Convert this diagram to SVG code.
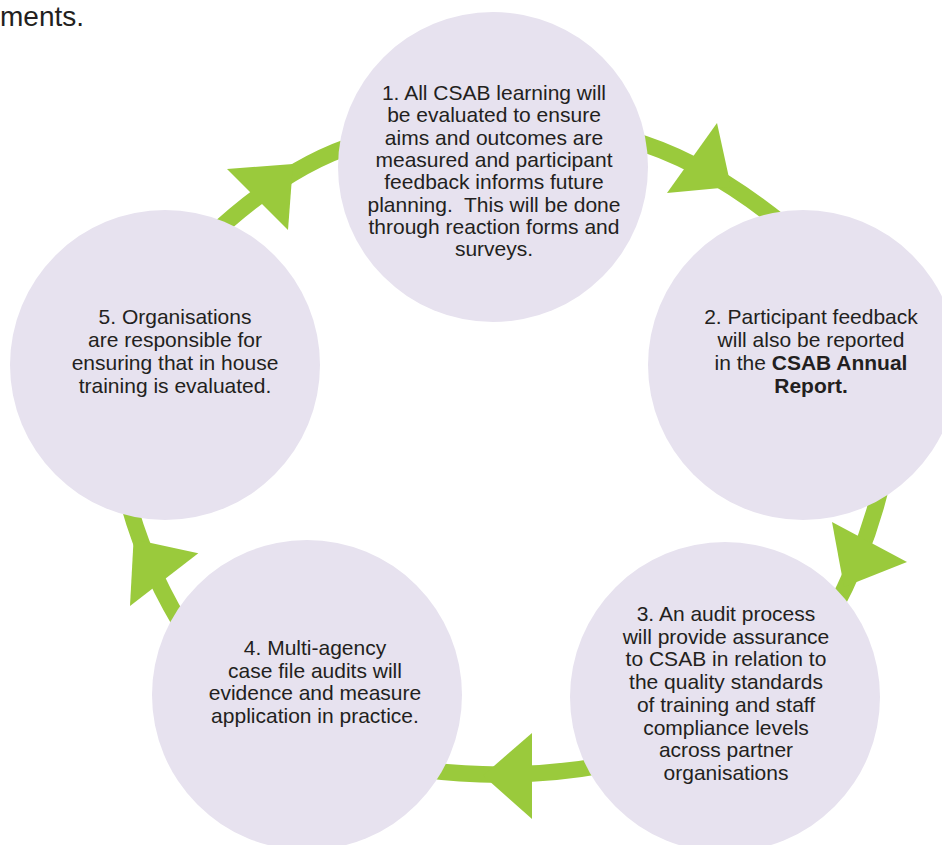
<svg xmlns="http://www.w3.org/2000/svg" width="942" height="845" viewBox="0 0 942 845">
<style>
.bg{fill:#ffffff}
.node{fill:#E7E2EF}
.arc{fill:none;stroke:#9ACA3C;stroke-width:16.5}
.head{fill:#9ACA3C}
.t{font-family:"Liberation Sans",Arial,sans-serif;font-size:21px;fill:#231F20;text-anchor:middle}
.b{font-weight:bold}
</style>
<rect class="bg" x="0" y="0" width="942" height="845"/>
<text x="0" y="26" style="font-family:'Liberation Sans',Arial,sans-serif;font-size:28px;fill:#231F20">ments.</text>
<g id="connectors">
  <path class="arc" d="M208 239 Q286 165 360 143"/>
  <polygon class="head" points="227,169 293,164 288,230"/>
  <path class="arc" d="M628 139 Q703.5 159.5 785 226"/>
  <polygon class="head" points="717,123 731,187 667,193"/>
  <path class="arc" d="M884 473 Q869.5 544 831 615"/>
  <polygon class="head" points="832,522 907,562 844,587"/>
  <path class="arc" d="M605 765 Q512.5 782 420 769"/>
  <polygon class="head" points="532,733 532,819 483,775.5"/>
  <path class="arc" d="M190.7 640 Q144.5 567.5 126.4 495"/>
  <polygon class="head" points="130,606 198.3,553.3 133.6,539.3"/>
</g>
<g id="node1">
  <circle class="node" cx="493" cy="167" r="155"/>
  <text class="t" x="494" y="100">1. All CSAB learning will</text>
  <text class="t" x="494" y="122.3">be evaluated to ensure</text>
  <text class="t" x="494" y="144.6">aims and outcomes are</text>
  <text class="t" x="494" y="166.9">measured and participant</text>
  <text class="t" x="494" y="189.2">feedback informs future</text>
  <text class="t" x="494" y="211.5" style="white-space:pre">planning.  This will be done</text>
  <text class="t" x="494" y="233.8">through reaction forms and</text>
  <text class="t" x="494" y="256.1">surveys.</text>
</g>
<g id="node2">
  <circle class="node" cx="803" cy="365" r="155"/>
  <text class="t" x="811" y="324">2. Participant feedback</text>
  <text class="t" x="811" y="347">will also be reported</text>
  <text class="t" x="811" y="370">in the <tspan class="b">CSAB Annual</tspan></text>
  <text class="t b" x="811" y="393">Report.</text>
</g>
<g id="node3">
  <circle class="node" cx="725" cy="697" r="155"/>
  <text class="t" x="726" y="621">3. An audit process</text>
  <text class="t" x="726" y="643.7">will provide assurance</text>
  <text class="t" x="726" y="666.4">to CSAB in relation to</text>
  <text class="t" x="726" y="689.1">the quality standards</text>
  <text class="t" x="726" y="711.8">of training and staff</text>
  <text class="t" x="726" y="734.5">compliance levels</text>
  <text class="t" x="726" y="757.2">across partner</text>
  <text class="t" x="726" y="779.9">organisations</text>
</g>
<g id="node4">
  <circle class="node" cx="307" cy="695" r="155"/>
  <text class="t" x="315" y="655">4. Multi-agency</text>
  <text class="t" x="315" y="678">case file audits will</text>
  <text class="t" x="315" y="700">evidence and measure</text>
  <text class="t" x="315" y="723">application in practice.</text>
</g>
<g id="node5">
  <circle class="node" cx="165" cy="365" r="155"/>
  <text class="t" x="175" y="324">5. Organisations</text>
  <text class="t" x="175" y="347">are responsible for</text>
  <text class="t" x="175" y="370">ensuring that in house</text>
  <text class="t" x="175" y="393">training is evaluated.</text>
</g>
</svg>
